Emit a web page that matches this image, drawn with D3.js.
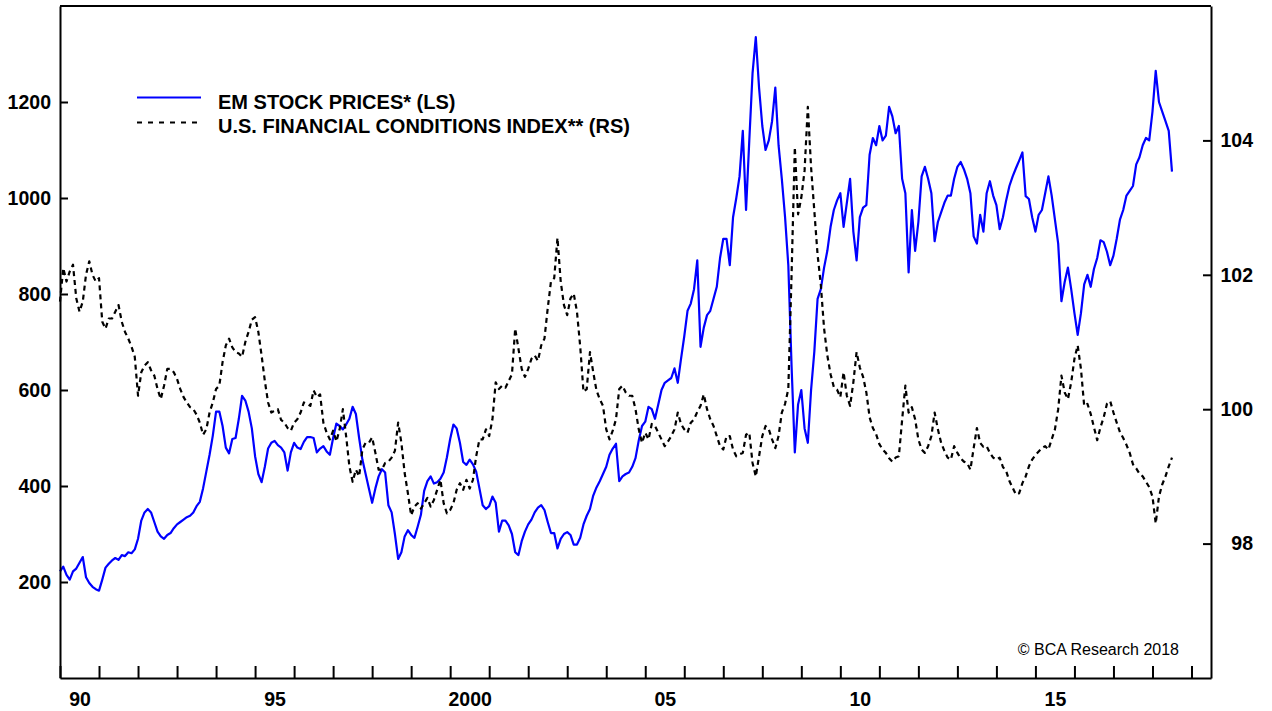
<!DOCTYPE html>
<html><head><meta charset="utf-8">
<script src="https://cdn.jsdelivr.net/npm/d3@7"></script>
<style>
body{margin:0;background:#fff}
svg{display:block}
text{font-family:"Liberation Sans",Arial,Helvetica,sans-serif}
</style>
</head><body>
<svg id="chart" width="1272" height="711"></svg>
<script>
// ---- data (monthly, starting Jan 1990) ----
const startYear = 1990;
const emStock = [
 222,232,215,205,222,228,240,252,210,198,190,185,
 182,205,230,238,245,250,246,256,254,262,260,268,
 290,328,345,352,345,325,305,295,290,298,302,312,
 320,325,330,335,338,345,358,367,395,430,465,505,
 555,555,525,480,468,498,500,540,588,578,555,520,
 462,425,408,440,478,490,494,485,480,470,432,470,
 490,480,477,492,502,502,500,470,478,483,472,465,
 500,530,525,518,528,540,565,550,500,455,425,395,
 365,395,420,435,428,360,345,300,248,262,295,308,
 298,292,315,340,390,410,420,405,408,415,428,460,
 498,528,520,490,450,444,455,445,430,395,360,352,
 358,378,365,305,328,328,318,300,262,256,285,305,
 320,330,345,355,360,350,325,302,302,270,290,300,
 304,298,278,278,292,320,338,352,380,397,410,425,
 440,465,478,488,410,420,425,428,440,458,495,525,
 534,565,560,540,570,600,615,620,625,645,615,665,
 712,765,780,810,870,690,730,756,765,790,815,875,
 915,915,860,960,1000,1045,1140,975,1120,1260,1335,1230,
 1150,1100,1120,1160,1230,1110,1040,960,860,650,470,570,
 600,520,490,600,680,790,810,855,890,940,975,995,
 1010,940,990,1040,930,870,960,980,985,1090,1125,1110,
 1150,1120,1130,1190,1170,1135,1150,1040,1010,845,975,890,
 950,1045,1065,1040,1010,910,950,970,990,1005,1005,1040,
 1065,1075,1060,1040,1010,920,905,965,930,1010,1035,1005,
 985,935,960,995,1025,1045,1062,1078,1095,1004,998,960,
 930,965,975,1010,1045,1005,955,905,785,825,855,810,
 760,715,760,820,840,815,852,875,912,908,888,860,
 880,915,955,975,1005,1015,1025,1070,1085,1110,1125,1120,
 1180,1265,1200,1180,1160,1140,1055
];
const fciIndex = [
 101.6,102.1,101.9,102.05,102.15,101.65,101.45,101.6,102.0,102.2,102.0,101.9,
 101.95,101.3,101.2,101.35,101.35,101.45,101.55,101.3,101.15,101.05,100.93,100.78,
 100.2,100.55,100.65,100.7,100.58,100.5,100.3,100.15,100.35,100.6,100.6,100.55,
 100.45,100.3,100.18,100.1,100.03,100.0,99.92,99.8,99.62,99.7,99.95,100.1,
 100.3,100.35,100.7,100.95,101.05,100.92,100.85,100.83,100.78,101.0,101.15,101.33,
 101.37,101.15,100.8,100.42,100.1,99.95,99.98,100.0,99.84,99.8,99.72,99.68,
 99.8,99.85,99.95,100.1,100.08,100.05,100.28,100.18,100.22,99.8,99.65,99.55,
 99.68,99.52,99.7,100.0,99.6,99.15,98.92,99.1,99.0,99.4,99.5,99.5,
 99.58,99.35,99.1,99.1,99.2,99.22,99.28,99.38,99.8,99.5,99.05,98.75,
 98.42,98.55,98.6,98.52,98.6,98.68,98.55,98.65,98.8,98.95,98.6,98.45,
 98.5,98.6,98.8,98.9,98.8,98.95,98.82,98.95,99.3,99.55,99.55,99.7,
 99.6,99.85,100.4,100.3,100.35,100.32,100.42,100.52,101.2,100.9,100.6,100.48,
 100.6,100.75,100.8,100.72,100.95,101.05,101.5,101.9,101.95,102.55,101.9,101.55,
 101.4,101.65,101.72,101.45,100.93,100.26,100.3,100.85,100.55,100.28,100.15,100.05,
 99.7,99.55,99.68,99.85,100.3,100.35,100.25,100.2,100.2,100.0,99.7,99.5,
 99.65,99.55,99.78,99.75,99.65,99.55,99.45,99.52,99.6,99.7,99.95,99.78,
 99.7,99.65,99.8,99.85,99.96,100.05,100.22,100.0,99.85,99.75,99.6,99.45,
 99.4,99.6,99.6,99.4,99.3,99.33,99.35,99.62,99.65,99.2,99.0,99.3,
 99.6,99.75,99.7,99.55,99.42,99.6,99.95,100.08,100.3,102.0,103.9,102.9,
 103.15,103.55,104.5,103.6,102.95,102.3,101.85,101.2,100.8,100.52,100.33,100.29,
 100.18,100.55,100.2,100.05,100.4,100.85,100.62,100.48,100.25,99.88,99.72,99.63,
 99.48,99.4,99.35,99.27,99.22,99.28,99.3,99.84,100.35,99.95,100.03,99.85,
 99.55,99.4,99.35,99.45,99.6,99.95,99.7,99.5,99.38,99.28,99.25,99.45,
 99.35,99.27,99.22,99.2,99.1,99.42,99.72,99.5,99.44,99.45,99.35,99.28,
 99.25,99.28,99.14,99.08,98.93,98.83,98.73,98.75,98.9,99.0,99.15,99.25,
 99.32,99.37,99.42,99.45,99.4,99.55,99.7,100.0,100.5,100.25,100.15,100.4,
 100.75,100.95,100.6,100.05,100.08,99.93,99.73,99.54,99.73,99.88,100.08,100.12,
 99.95,99.8,99.66,99.57,99.47,99.35,99.18,99.12,99.04,99.0,98.92,98.84,
 98.7,98.3,98.7,98.88,99.0,99.15,99.28
];
const xTickYears = d3.range(1990, 2020);
const xLabelYears = [1990, 1995, 2000, 2005, 2010, 2015];
const xLabelText = ["90", "95", "2000", "05", "10", "15"];
const leftTicks = [200, 400, 600, 800, 1000, 1200];
const rightTicks = [98, 100, 102, 104];
const seriesNames = ["EM STOCK PRICES* (LS)", "U.S. FINANCIAL CONDITIONS INDEX** (RS)"];
const sourceNote = "\u00A9 BCA Research 2018";

// ---- layout ----
const L = 60, R = 1211, T = 6, B = 678;
const svg = d3.select("#chart");
const x = d3.scaleLinear().domain([1990, 2019.5]).range([L, R]);
const yL = d3.scaleLinear().domain([0, 1400]).range([B, T]);
const yR = d3.scaleLinear().domain([96, 106]).range([B, T]);
const dateOf = i => startYear + i / 12;

// series
const lineEM = d3.line().x((d, i) => x(dateOf(i))).y(d => yL(d));
const lineFCI = d3.line().x((d, i) => x(dateOf(i))).y(d => yR(d));
svg.append("path").datum(emStock).attr("d", lineEM)
  .attr("fill", "none").attr("stroke", "#0000ff").attr("stroke-width", 2.2)
  .attr("stroke-linejoin", "round");
svg.append("path").datum(fciIndex).attr("d", lineFCI)
  .attr("fill", "none").attr("stroke", "#000").attr("stroke-width", 2.2)
  .attr("stroke-dasharray", "5,4").attr("stroke-linejoin", "round");

// frame top
svg.append("line").attr("x1", L).attr("x2", R).attr("y1", T).attr("y2", T)
  .attr("stroke", "#000").attr("stroke-width", 2);

// left axis
const gL = svg.append("g").attr("transform", `translate(${L},0)`)
  .call(d3.axisLeft(yL).tickValues(leftTicks).tickSizeInner(-8).tickSizeOuter(0)
    .tickPadding(9).tickFormat(d3.format("d")));
// right axis
const gR = svg.append("g").attr("transform", `translate(${R},0)`)
  .call(d3.axisRight(yR).tickValues(rightTicks).tickSizeInner(-8).tickSizeOuter(0)
    .tickPadding(9).tickFormat(d3.format("d")));
gR.selectAll("text").attr("text-anchor", "end").attr("x", 42);
// bottom axis ticks
const gB = svg.append("g").attr("transform", `translate(0,${B})`)
  .call(d3.axisBottom(x).tickValues(xTickYears).tickSizeInner(-12).tickSizeOuter(0).tickFormat(""));
// bottom labels (centred in the year)
const gB2 = svg.append("g").attr("transform", `translate(0,${B})`)
  .call(d3.axisBottom(x).tickValues(xLabelYears.map(y => y + 0.5)).tickSize(0).tickPadding(14)
    .tickFormat((d, i) => xLabelText[i]));
gB2.select(".domain").remove();

[gL, gR, gB, gB2].forEach(g => {
  g.selectAll(".domain").attr("stroke", "#000").attr("stroke-width", 2);
  g.selectAll(".tick line").attr("stroke", "#000").attr("stroke-width", 2);
  g.selectAll("text").attr("fill", "#000").style("font-size", "19.5px").style("font-weight", "bold")
    .style("font-family", '"Liberation Sans", Arial, sans-serif');
});

// legend
const leg = svg.append("g");
leg.append("line").attr("x1", 137).attr("x2", 201).attr("y1", 97.5).attr("y2", 97.5)
  .attr("stroke", "#0000ff").attr("stroke-width", 2.2);
leg.append("line").attr("x1", 137).attr("x2", 201).attr("y1", 122.5).attr("y2", 122.5)
  .attr("stroke", "#000").attr("stroke-width", 2.2).attr("stroke-dasharray", "5,6");
leg.selectAll("text.lg").data(seriesNames).enter().append("text").attr("class", "lg")
  .attr("x", 218).attr("y", (d, i) => 109 + i * 24.3)
  .style("font-size", "20px").style("font-weight", "bold").text(d => d);

// source
svg.append("text").attr("x", 1179).attr("y", 655).attr("text-anchor", "end")
  .style("font-size", "16px").text(sourceNote);
</script>
</body></html>
